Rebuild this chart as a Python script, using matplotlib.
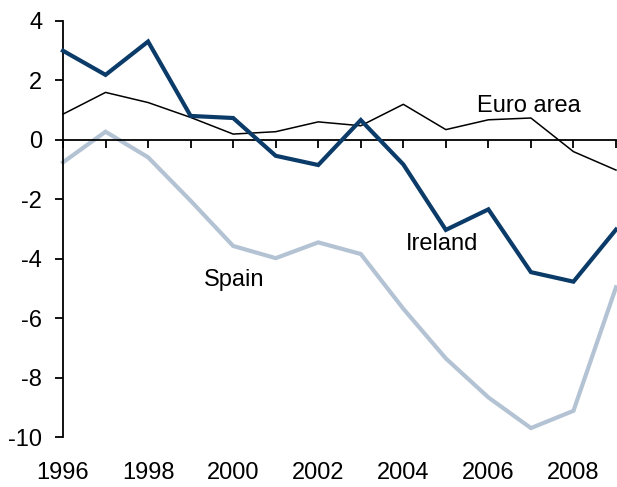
import matplotlib
matplotlib.use("Agg")
import matplotlib.pyplot as plt

years = list(range(1996, 2010))
ireland = [2.99, 2.18, 3.30, 0.80, 0.73, -0.54, -0.85, 0.66, -0.83, -3.03, -2.34, -4.45, -4.77, -3.02]
euro_area = [0.86, 1.59, 1.25, 0.75, 0.19, 0.27, 0.60, 0.47, 1.19, 0.34, 0.67, 0.73, -0.40, -1.02]
spain = [-0.76, 0.27, -0.59, -2.05, -3.57, -3.98, -3.45, -3.84, -5.68, -7.35, -8.66, -9.69, -9.11, -4.96]
x_labels = [1996, 1998, 2000, 2002, 2004, 2006, 2008]
y_ticks = [4, 2, 0, -2, -4, -6, -8, -10]

plt.rcParams['font.family'] = ['Liberation Sans', 'DejaVu Sans']

fig = plt.figure(figsize=(6.17, 4.87), dpi=100)
ax = fig.add_axes([63/617, 1-437.3/487, (616-63)/617, (437.3-20.7)/487])

ax.plot(years, spain, color='#b4c3d4', lw=3.0, clip_on=False, solid_joinstyle='miter', zorder=2)
ax.plot(years, euro_area, color='black', lw=1.1, clip_on=False, zorder=3)
ax.plot(years, ireland, color='#0b3b68', lw=3.0, clip_on=False, solid_joinstyle='miter', zorder=4)

ax.set_xlim(1996, 2009)
ax.set_ylim(-10, 4)
ax.spines['top'].set_visible(False)
ax.spines['right'].set_visible(False)
ax.spines['bottom'].set_position(('data', 0))
for s in ('left', 'bottom'):
    ax.spines[s].set_linewidth(1.3)
ax.set_xticks(years)
ax.tick_params(axis='x', direction='out', length=6, width=1.3, labelbottom=False)
ax.set_yticks(y_ticks)
ax.set_yticklabels([str(v) for v in y_ticks])
ax.tick_params(axis='y', direction='out', length=6, width=1.3, labelsize=17, pad=9)

sec = ax.secondary_xaxis('bottom')
sec.spines['bottom'].set_visible(False)
sec.set_xticks(x_labels)
sec.set_xticklabels([str(v) for v in x_labels])
sec.tick_params(length=0, labelsize=17, pad=18)

ax.text(2005.73, 1.14, 'Euro area', fontsize=17, ha='left', va='center')
ax.text(2004.06, -3.49, 'Ireland', fontsize=17, ha='left', va='center')
ax.text(1999.31, -4.70, 'Spain', fontsize=17, ha='left', va='center')

fig.savefig('out.png', dpi=100)
